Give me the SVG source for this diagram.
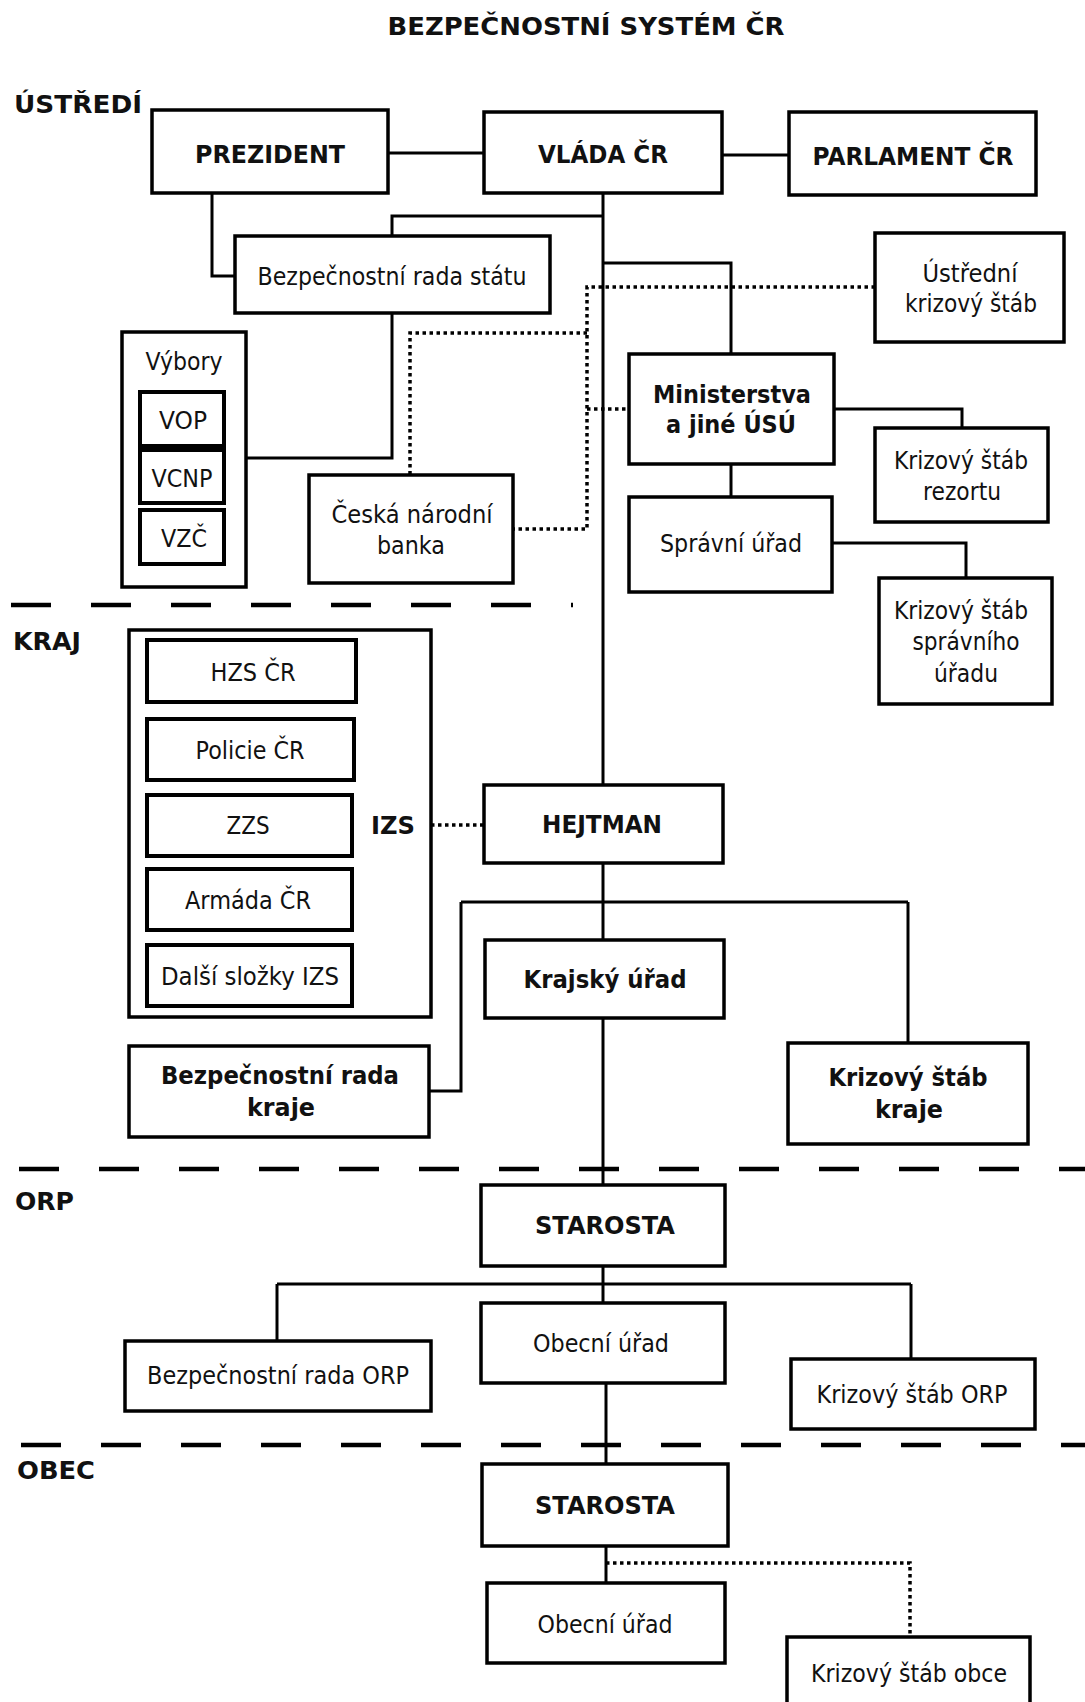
<svg xmlns="http://www.w3.org/2000/svg" width="1085" height="1702" viewBox="0 0 1085 1702">
<style>
.bg{fill:#fff}
.box{fill:#fff;stroke:#000;stroke-width:3.5}
.ibox{fill:#fff;stroke:#000;stroke-width:4}
.ln{fill:none;stroke:#000;stroke-width:3}
.dot{fill:none;stroke:#000;stroke-width:3.5;stroke-dasharray:3.5 3.5}
.dash{fill:none;stroke:#000;stroke-width:4.5;stroke-dasharray:40 40}
text{font-family:"DejaVu Sans","Liberation Sans",sans-serif;font-size:24px;fill:#111;text-anchor:middle}
.b{font-weight:bold}
.l{text-anchor:start}
</style>
<rect class="bg" x="0" y="0" width="1085" height="1702"/>
<g id="labels">
<text class="b" x="586" y="35" textLength="397" lengthAdjust="spacingAndGlyphs">BEZPEČNOSTNÍ SYSTÉM ČR</text>
<text class="b l" x="14" y="113" textLength="128" lengthAdjust="spacingAndGlyphs">ÚSTŘEDÍ</text>
<text class="b l" x="13" y="650" textLength="68" lengthAdjust="spacingAndGlyphs">KRAJ</text>
<text class="b l" x="15" y="1210" textLength="59" lengthAdjust="spacingAndGlyphs">ORP</text>
<text class="b l" x="17" y="1479" textLength="78" lengthAdjust="spacingAndGlyphs">OBEC</text>
</g>
<g id="levels">
<line class="dash" x1="11" y1="605" x2="573" y2="605"/>
<line class="dash" x1="19" y1="1169" x2="1085" y2="1169"/>
<line class="dash" x1="21" y1="1445" x2="1085" y2="1445"/>
</g>
<g id="connectors">
<line class="ln" x1="388" y1="153" x2="484" y2="153"/>
<line class="ln" x1="722" y1="155" x2="789" y2="155"/>
<polyline class="ln" points="212,193 212,276 235,276"/>
<line class="ln" x1="603" y1="193" x2="603" y2="785"/>
<polyline class="ln" points="603,216 392,216 392,236"/>
<polyline class="ln" points="603,263 731,263 731,354"/>
<polyline class="ln" points="392,313 392,458 246,458"/>
<polyline class="ln" points="834,409 962,409 962,428"/>
<line class="ln" x1="731" y1="464" x2="731" y2="497"/>
<polyline class="ln" points="832,543 966,543 966,578"/>
<polyline class="dot" points="875,287 587,287 587,529 513,529"/>
<polyline class="dot" points="587,333 410,333 410,475"/>
<line class="dot" x1="587" y1="409" x2="629" y2="409"/>
<line class="dot" x1="431" y1="825" x2="484" y2="825"/>
<line class="ln" x1="603" y1="863" x2="603" y2="940"/>
<line class="ln" x1="461" y1="902" x2="908" y2="902"/>
<polyline class="ln" points="461,902 461,1091 429,1091"/>
<line class="ln" x1="908" y1="902" x2="908" y2="1043"/>
<line class="ln" x1="603" y1="1018" x2="603" y2="1185"/>
<line class="ln" x1="603" y1="1266" x2="603" y2="1303"/>
<line class="ln" x1="277" y1="1284" x2="911" y2="1284"/>
<line class="ln" x1="277" y1="1284" x2="277" y2="1341"/>
<line class="ln" x1="911" y1="1284" x2="911" y2="1359"/>
<line class="ln" x1="606" y1="1383" x2="606" y2="1464"/>
<line class="ln" x1="606" y1="1546" x2="606" y2="1583"/>
<polyline class="dot" points="606,1563 910,1563 910,1637"/>
</g>
<g id="prezident"><rect class="box" x="152" y="110" width="236" height="83"/><text class="b" x="270" y="163" textLength="150" lengthAdjust="spacingAndGlyphs">PREZIDENT</text></g>
<g id="vlada"><rect class="box" x="484" y="112" width="238" height="81"/><text class="b" x="603" y="163" textLength="130" lengthAdjust="spacingAndGlyphs">VLÁDA ČR</text></g>
<g id="parlament"><rect class="box" x="789" y="112" width="247" height="83"/><text class="b" x="913" y="165" textLength="201" lengthAdjust="spacingAndGlyphs">PARLAMENT ČR</text></g>
<g id="brs"><rect class="box" x="235" y="236" width="315" height="77"/><text x="392" y="285" textLength="269" lengthAdjust="spacingAndGlyphs">Bezpečnostní rada státu</text></g>
<g id="uks"><rect class="box" x="875" y="233" width="189" height="109"/><text x="970" y="282" textLength="95" lengthAdjust="spacingAndGlyphs">Ústřední</text><text x="971" y="312" textLength="132" lengthAdjust="spacingAndGlyphs">krizový štáb</text></g>
<g id="vybory"><rect class="box" x="122" y="332" width="124" height="255"/><text x="184" y="370" textLength="77" lengthAdjust="spacingAndGlyphs">Výbory</text>
<rect class="ibox" x="140" y="392" width="84" height="54"/><text x="183" y="429" textLength="48" lengthAdjust="spacingAndGlyphs">VOP</text>
<rect class="ibox" x="140" y="450" width="84" height="53"/><text x="182" y="487" textLength="61" lengthAdjust="spacingAndGlyphs">VCNP</text>
<rect class="ibox" x="140" y="510" width="84" height="54"/><text x="184" y="547" textLength="46" lengthAdjust="spacingAndGlyphs">VZČ</text></g>
<g id="cnb"><rect class="box" x="309" y="475" width="204" height="108"/><text x="412" y="523" textLength="161" lengthAdjust="spacingAndGlyphs">Česká národní</text><text x="411" y="554" textLength="68" lengthAdjust="spacingAndGlyphs">banka</text></g>
<g id="ministerstva"><rect class="box" x="629" y="354" width="205" height="110"/><text class="b" x="732" y="403" textLength="158" lengthAdjust="spacingAndGlyphs">Ministerstva</text><text class="b" x="731" y="433" textLength="130" lengthAdjust="spacingAndGlyphs">a jiné ÚSÚ</text></g>
<g id="ksr"><rect class="box" x="875" y="428" width="173" height="94"/><text x="961" y="469" textLength="134" lengthAdjust="spacingAndGlyphs">Krizový štáb</text><text x="962" y="500" textLength="78" lengthAdjust="spacingAndGlyphs">rezortu</text></g>
<g id="spravni"><rect class="box" x="629" y="497" width="203" height="95"/><text x="731" y="552" textLength="142" lengthAdjust="spacingAndGlyphs">Správní úřad</text></g>
<g id="kssu"><rect class="box" x="879" y="578" width="173" height="126"/><text x="961" y="619" textLength="134" lengthAdjust="spacingAndGlyphs">Krizový štáb</text><text x="966" y="650" textLength="107" lengthAdjust="spacingAndGlyphs">správního</text><text x="966" y="682" textLength="64" lengthAdjust="spacingAndGlyphs">úřadu</text></g>
<g id="izs"><rect class="box" x="129" y="630" width="302" height="387"/><text class="b" x="393" y="834" textLength="44" lengthAdjust="spacingAndGlyphs">IZS</text>
<rect class="ibox" x="147" y="640" width="209" height="62"/><text x="253" y="681" textLength="85" lengthAdjust="spacingAndGlyphs">HZS ČR</text>
<rect class="ibox" x="147" y="719" width="207" height="61"/><text x="250" y="759" textLength="109" lengthAdjust="spacingAndGlyphs">Policie ČR</text>
<rect class="ibox" x="147" y="795" width="205" height="61"/><text x="248" y="834" textLength="43" lengthAdjust="spacingAndGlyphs">ZZS</text>
<rect class="ibox" x="147" y="869" width="205" height="61"/><text x="248" y="909" textLength="126" lengthAdjust="spacingAndGlyphs">Armáda ČR</text>
<rect class="ibox" x="147" y="945" width="205" height="61"/><text x="250" y="985" textLength="178" lengthAdjust="spacingAndGlyphs">Další složky IZS</text></g>
<g id="hejtman"><rect class="box" x="484" y="785" width="239" height="78"/><text class="b" x="602" y="833" textLength="120" lengthAdjust="spacingAndGlyphs">HEJTMAN</text></g>
<g id="krajsky"><rect class="box" x="485" y="940" width="239" height="78"/><text class="b" x="605" y="988" textLength="163" lengthAdjust="spacingAndGlyphs">Krajský úřad</text></g>
<g id="brk"><rect class="box" x="129" y="1046" width="300" height="91"/><text class="b" x="280" y="1084" textLength="238" lengthAdjust="spacingAndGlyphs">Bezpečnostní rada</text><text class="b" x="281" y="1116" textLength="68" lengthAdjust="spacingAndGlyphs">kraje</text></g>
<g id="ksk"><rect class="box" x="788" y="1043" width="240" height="101"/><text class="b" x="908" y="1086" textLength="159" lengthAdjust="spacingAndGlyphs">Krizový štáb</text><text class="b" x="909" y="1118" textLength="68" lengthAdjust="spacingAndGlyphs">kraje</text></g>
<g id="starosta-orp"><rect class="box" x="481" y="1185" width="244" height="81"/><text class="b" x="605" y="1234" textLength="140" lengthAdjust="spacingAndGlyphs">STAROSTA</text></g>
<g id="obecni-orp"><rect class="box" x="481" y="1303" width="244" height="80"/><text x="601" y="1352" textLength="136" lengthAdjust="spacingAndGlyphs">Obecní úřad</text></g>
<g id="br-orp"><rect class="box" x="125" y="1341" width="306" height="70"/><text x="278" y="1384" textLength="262" lengthAdjust="spacingAndGlyphs">Bezpečnostní rada ORP</text></g>
<g id="ks-orp"><rect class="box" x="791" y="1359" width="244" height="70"/><text x="912" y="1403" textLength="191" lengthAdjust="spacingAndGlyphs">Krizový štáb ORP</text></g>
<g id="starosta-obec"><rect class="box" x="482" y="1464" width="246" height="82"/><text class="b" x="605" y="1514" textLength="140" lengthAdjust="spacingAndGlyphs">STAROSTA</text></g>
<g id="obecni-obec"><rect class="box" x="487" y="1583" width="238" height="80"/><text x="605" y="1633" textLength="135" lengthAdjust="spacingAndGlyphs">Obecní úřad</text></g>
<g id="ks-obce"><rect class="box" x="787" y="1637" width="243" height="80"/><text x="909" y="1682" textLength="196" lengthAdjust="spacingAndGlyphs">Krizový štáb obce</text></g>
</svg>
